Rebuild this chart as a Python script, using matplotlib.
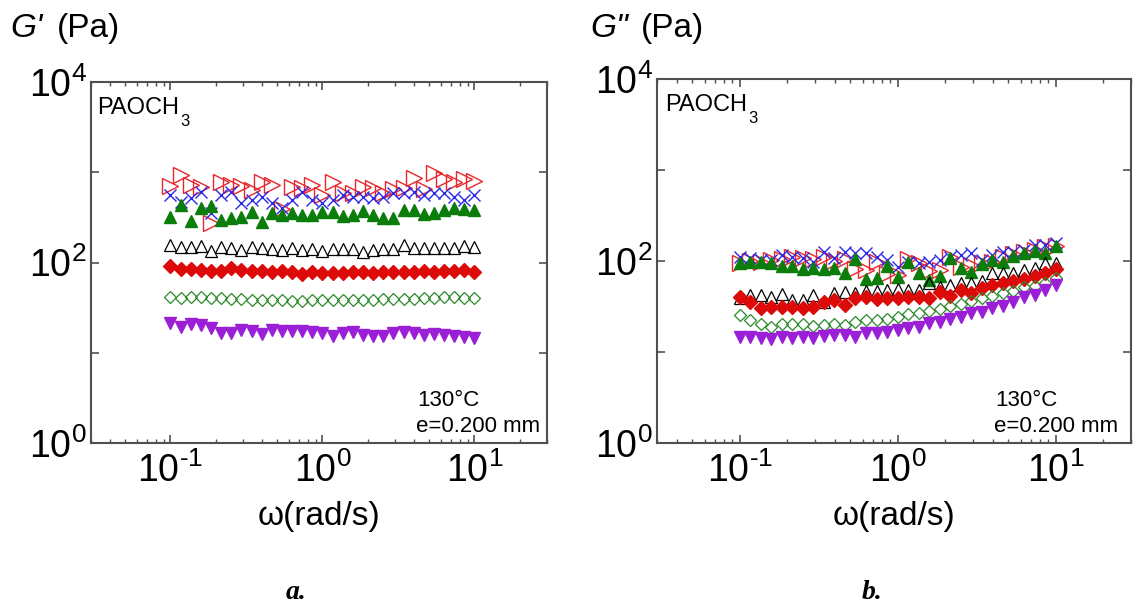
import numpy as np
import matplotlib
matplotlib.use('Agg')
import matplotlib.pyplot as plt
from matplotlib.ticker import FixedLocator, LogLocator, FuncFormatter, NullFormatter

plt.rcParams['font.family'] = ['Liberation Sans', 'DejaVu Sans']
plt.rcParams['mathtext.fontset'] = 'custom'
plt.rcParams['mathtext.rm'] = 'Liberation Sans'
plt.rcParams['mathtext.it'] = 'Liberation Sans:italic'
plt.rcParams['mathtext.bf'] = 'Liberation Sans:bold'
plt.rcParams['axes.unicode_minus'] = False

# angular frequency (rad/s)
omega = [0.1, 0.1166, 0.1359, 0.1585, 0.1848, 0.2154, 0.2512, 0.2929, 0.3415, 0.3981,
         0.4642, 0.5412, 0.6310, 0.7356, 0.8577, 1.0, 1.166, 1.359, 1.585, 1.848,
         2.154, 2.512, 2.929, 3.415, 3.981, 4.642, 5.412, 6.310, 7.356, 8.577, 10.0]

# ---- G' (Pa) ----
gp_red_right = [704, 933, 723, 692, 276, 787, 723, 704, 636, 787, 723, 388, 681, 664, 723,
                560, 787, 594, 594, 681, 664, 584, 647, 664, 857, 647, 988, 835, 787, 835, 807]
gp_blue_x = [560, 472, 514, 609, 351, 560, 609, 452, 493, 536, 452, 398, 493, 609, 493,
             452, 493, 560, 536, 536, 514, 536, 584, 584, 609, 560, 584, 584, 536, 493, 560]
gp_green_tri = [322, 433, 290, 398, 423, 296, 309, 322, 366, 283, 351, 336, 351, 336, 336,
                366, 366, 327, 336, 375, 336, 309, 309, 382, 382, 345, 351, 382, 398, 388, 382]
gp_black_tri = [156, 147, 147, 153, 134, 150, 143, 137, 150, 143, 140, 137, 143, 137, 140,
                134, 140, 140, 140, 132, 137, 140, 140, 156, 146, 146, 146, 146, 143, 152, 150]
gp_red_dia = [91, 85, 84, 82, 80, 81, 86, 82, 80, 80, 79, 80, 78, 75, 78,
              77, 77, 77, 79, 78, 77, 79, 78, 79, 79, 80, 79, 81, 80, 82, 79]
gp_green_dia = [41, 40, 41, 41, 40, 40, 39, 39, 38, 38, 38, 38, 37, 37, 38,
                38, 38, 38, 38, 38, 38, 39, 39, 39, 39, 40, 40, 41, 41, 40, 40]
gp_purple = [21.2, 19.1, 21.0, 20.2, 18.8, 16.6, 16.6, 17.7, 17.2, 16.1, 17.7, 17.4, 17.2, 17.4, 17.1,
             16.5, 15.4, 16.5, 17.1, 15.6, 15.2, 15.2, 16.5, 17.1, 16.6, 15.9, 16.1, 15.9, 15.4, 14.9, 14.6]

# ---- G'' (Pa) ----
gpp_red_right = [95, 100, 98, 102, 105, 110, 108, 104, 110, 100, 104, 82, 80, 98, 72,
                 70, 104, 95, 78, 80, 110, 86, 90, 96, 98, 112, 118, 125, 132, 142, 148]
gpp_blue_x = [112, 107, 102.6, 102.6, 116, 112, 107, 98.4, 127, 107, 127, 121, 121, 112, 102.6,
              86.6, 98.4, 94.3, 98.4, 102.6, 112, 116, 121, 102.6, 116, 127, 127, 132, 150, 150, 156]
gpp_green_tri = [95.9, 98.4, 98.4, 94.3, 88.1, 88.1, 81.1, 83.0, 81.1, 83.0, 74.5, 104, 62.9, 64.5, 88.1,
                 67.3, 98.4, 74.5, 61.8, 68.4, 107, 83.0, 76.3, 92.7, 102.6, 98.4, 113.5, 121, 130, 121, 146]
gpp_black_tri = [38.9, 42.3, 42.3, 39.9, 43.4, 37.3, 37.3, 42.3, 35.7, 44.9, 46.0, 44.9, 47.2, 47.2, 48.0,
                 48.9, 48.0, 48.0, 56.9, 52.2, 54.5, 56.9, 57.8, 60.3, 74.5, 74.5, 74.5, 79.6, 83.0, 94.3, 95.9]
gpp_red_dia = [39.9, 35.7, 30.2, 31.0, 31.5, 31.0, 30.2, 31.0, 35.7, 37.3, 32.8, 38.9, 40.6, 37.9, 38.9,
               38.9, 39.9, 39.9, 38.9, 46.0, 41.2, 48.0, 44.9, 50.1, 54.5, 57.8, 60.8, 62.9, 68.4, 73.2, 81.1]
gpp_green_dia = [25.5, 22.5, 20.3, 18.7, 20.3, 20.3, 20.3, 19.3, 19.8, 20.3, 19.8, 21.5, 22.5, 22.5, 22.8,
                 24.4, 26.2, 26.6, 28.5, 29.4, 32.0, 33.7, 36.6, 38.9, 41.2, 44.9, 47.2, 51.4, 53.1, 57.8, 64.5]
gpp_purple = [14.7, 14.5, 14.1, 13.8, 14.5, 14.1, 14.7, 14.1, 15.0, 15.4, 15.4, 14.7, 16.0, 16.0, 16.7,
              17.5, 18.2, 19.0, 20.6, 21.5, 22.8, 24.4, 26.6, 27.7, 30.2, 32.0, 35.7, 39.9, 42.3, 48.0, 54.5]

# marker, face, edge, size(pt), edge width
styles = [
    ('>', 'none', '#e8262b', 11.0, 1.0),
    ('x', '#2a2ae6', '#2a2ae6', 9.0, 1.0),
    ('^', '#0a7d0a', '#0a7d0a', 9.0, 1.0),
    ('^', 'none', '#000000', 8.5, 0.9),
    ('D', '#dd0a0a', '#dd0a0a', 6.8, 1.0),
    ('D', 'none', '#2a8a2a', 6.3, 0.9),
    ('v', '#9b1fd6', '#9b1fd6', 9.0, 1.0),
]

W, H = 1133, 608
fig = plt.figure(figsize=(W / 100, H / 100), dpi=100)

def px_axes(l, t, r, b):
    return fig.add_axes([l / W, 1 - b / H, (r - l) / W, (b - t) / H])

def exp_str(e):
    if e < 0:
        return r'$\mathdefault{10^{\text{-}%d}}$' % (-e)
    return r'$\mathdefault{10^{%d}}$' % e

def dec_fmt(v, pos):
    return exp_str(int(round(np.log10(v))))

def dec_fmt_even(v, pos):
    e = int(round(np.log10(v)))
    return exp_str(e) if e % 2 == 0 else ''

def setup(ax):
    ax.set_xscale('log')
    ax.set_yscale('log')
    ax.set_xlim(0.03, 30)
    ax.set_ylim(1, 1e4)
    ax.xaxis.set_major_locator(FixedLocator([0.1, 1, 10]))
    ax.xaxis.set_minor_locator(LogLocator(base=10, subs=np.arange(2, 10)))
    ax.xaxis.set_major_formatter(FuncFormatter(dec_fmt))
    ax.xaxis.set_minor_formatter(NullFormatter())
    ax.yaxis.set_major_locator(FixedLocator([1, 10, 100, 1000, 10000]))
    ax.yaxis.set_minor_locator(LogLocator(base=10, subs=np.arange(2, 10)))
    ax.yaxis.set_major_formatter(FuncFormatter(dec_fmt_even))
    ax.yaxis.set_minor_formatter(NullFormatter())
    ax.tick_params(which='both', direction='in', top=True, right=True, colors='#505050',
                   labelcolor='black')
    ax.tick_params(which='major', length=6, width=1.2, labelsize=27)
    ax.tick_params(which='minor', length=3, width=1.0)
    ax.tick_params(axis='y', which='major', pad=3)
    ax.tick_params(axis='x', which='major', pad=7)
    for s in ax.spines.values():
        s.set_color('#505050')
        s.set_linewidth(1.5)
    ax.set_xlabel('ω(rad/s)', fontsize=24, labelpad=8)

ax1 = px_axes(91, 82, 547, 443)
ax2 = px_axes(657, 79, 1131, 443)
for ax in (ax1, ax2):
    setup(ax)

left_series = [gp_red_right, gp_blue_x, gp_green_tri, gp_black_tri, gp_red_dia, gp_green_dia, gp_purple]
right_series = [gpp_red_right, gpp_blue_x, gpp_green_tri, gpp_black_tri, gpp_red_dia, gpp_green_dia, gpp_purple]

for ax, series in ((ax1, left_series), (ax2, right_series)):
    for vals, (m, fc, ec, ms, mew) in zip(series, styles):
        ax.plot(omega, vals, linestyle='none', marker=m, markerfacecolor=fc,
                markeredgecolor=ec, markersize=ms, markeredgewidth=mew)

def ftext(x, y, s, **kw):
    fig.text(x / W, 1 - y / H, s, va='baseline', **kw)

# panel titles (y-axis labels)
ftext(10, 37, "G'", fontsize=24, style='italic')
ftext(57, 37, "(Pa)", fontsize=24)
ftext(590, 37, 'G"', fontsize=24, style='italic')
ftext(641, 37, "(Pa)", fontsize=24)

# inner annotations
for x0, y0 in ((97, 114), (665, 111)):
    ftext(x0, y0, 'PAOCH', fontsize=17)
for x0, y0 in ((180, 126), (748, 123)):
    ftext(x0, y0, '3', fontsize=12)
for x0 in (417, 995):
    ftext(x0, 406, '130°C', fontsize=16)
    ftext(x0 - 1, 432, 'e=0.200 mm', fontsize=16)

# panel letters
ftext(286, 599, 'a.', fontsize=20, family='Liberation Serif', style='italic', weight='bold')
ftext(862, 599, 'b.', fontsize=20, family='Liberation Serif', style='italic', weight='bold')

fig.savefig('out.png', dpi=100)
